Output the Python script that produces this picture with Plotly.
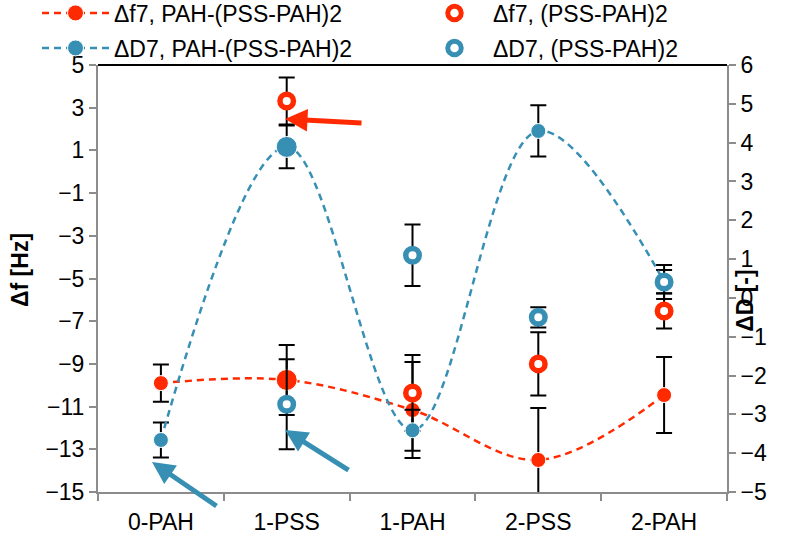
import plotly.graph_objects as go

categories = ["0-PAH", "1-PSS", "1-PAH", "2-PSS", "2-PAH"]

# Δf7, PAH-(PSS-PAH)2  (left axis)
df_multi = [-9.9, -9.75, -11.16, -13.5, -10.46]
df_multi_err = [0.87, 1.64, 2.25, 2.44, 1.78]

# ΔD7, PAH-(PSS-PAH)2  (right axis)
dD_multi = [-3.66, 3.89, -3.41, 4.30, 0.42]
dD_multi_err = [0.45, 0.55, 0.53, 0.66, 0.30]

# Δf7, (PSS-PAH)2  (left axis)
single_cats = ["1-PSS", "1-PAH", "2-PSS", "2-PAH"]
df_single = [3.31, -10.36, -9.0, -6.52]
df_single_err = [1.10, 1.78, 1.48, 0.82]

# ΔD7, (PSS-PAH)2  (right axis)
dD_single = [-2.74, 1.10, -0.50, 0.41]
dD_single_err = [1.16, 0.79, 0.26, 0.44]

RED = "#FF2A00"
BLUE = "#378FB4"
FONT = "Liberation Sans, Arial, sans-serif"
FS = 23
LFS = 23
filled_sizes = [15, 21, 15, 15, 15]

fig = go.Figure()

def ebar(arr):
    return dict(type="data", array=arr, visible=True, color="black", thickness=2, width=8)

fig.add_trace(go.Scatter(
    x=categories, y=df_multi, name="Δf7, PAH-(PSS-PAH)2", mode="lines+markers",
    line=dict(color=RED, width=2.5, dash="7px,5px", shape="spline"),
    marker=dict(color=RED, size=filled_sizes, opacity=1), error_y=ebar(df_multi_err),
    yaxis="y", legend="legend"))
fig.add_trace(go.Scatter(
    x=single_cats, y=df_single, name="Δf7, (PSS-PAH)2", mode="markers",
    marker=dict(color="white", size=13.5, opacity=1, line=dict(color=RED, width=5.5)),
    error_y=ebar(df_single_err), yaxis="y", legend="legend2"))
fig.add_trace(go.Scatter(
    x=categories, y=dD_multi, name="ΔD7, PAH-(PSS-PAH)2", mode="lines+markers",
    line=dict(color=BLUE, width=2.5, dash="7px,5px", shape="spline"),
    marker=dict(color=BLUE, size=filled_sizes, opacity=1), error_y=ebar(dD_multi_err),
    yaxis="y2", legend="legend3"))
fig.add_trace(go.Scatter(
    x=single_cats, y=dD_single, name="ΔD7, (PSS-PAH)2", mode="markers",
    marker=dict(color="white", size=13.5, opacity=1, line=dict(color=BLUE, width=5.5)),
    error_y=ebar(dD_single_err), yaxis="y2", legend="legend4"))

axis_common = dict(showgrid=False, zeroline=False, showline=True, linecolor="#8C8C8C",
                   linewidth=2, ticks="outside", tickcolor="#8C8C8C", ticklen=7, tickwidth=1.5,
                   tickfont=dict(family=FONT, size=FS, color="black"))

leg_common = dict(orientation="h", bgcolor="rgba(0,0,0,0)", font=dict(family=FONT, size=LFS, color="black"),
                  xref="container", yref="container", xanchor="left", yanchor="middle", itemwidth=67)

fig.update_layout(
    width=796, height=542,
    margin=dict(l=98, r=69, t=65, b=50, autoexpand=False),
    paper_bgcolor="white", plot_bgcolor="white",
    xaxis=dict(type="category", categoryorder="array", categoryarray=categories,
               range=[-0.5, 4.5], tickson="boundaries", ticklabelstandoff=8, **axis_common),
    yaxis=dict(range=[-15, 5], tickmode="linear", tick0=-15, dtick=2, **axis_common),
    yaxis2=dict(range=[-5, 6], tickmode="linear", tick0=-5, dtick=1, overlaying="y", side="right",
                **axis_common),
    legend=dict(x=37 / 796, y=1 - 13 / 542, **leg_common),
    legend2=dict(x=416 / 796, y=1 - 13 / 542, **leg_common),
    legend3=dict(x=37 / 796, y=1 - 48 / 542, **leg_common),
    legend4=dict(x=416 / 796, y=1 - 48 / 542, **leg_common),
    showlegend=True,
)

# top border
fig.add_shape(type="line", xref="paper", yref="paper", x0=0, x1=1, y0=1, y1=1,
              line=dict(color="black", width=2))

# axis titles
fig.add_annotation(text="<b>Δf [Hz]</b>", xref="paper", yref="paper", x=-0.124, y=0.52,
                   xanchor="center", yanchor="middle",
                   textangle=-90, showarrow=False, font=dict(family=FONT, size=FS, color="black"))
fig.add_annotation(text="<b>ΔD [-]</b>", xref="paper", yref="paper", x=1.0286, y=0.45,
                   xanchor="center", yanchor="middle",
                   textangle=-90, showarrow=False, font=dict(family=FONT, size=FS, color="black"))

# arrows
arrow_common = dict(xref="paper", yref="paper", text="", showarrow=True, arrowhead=2,
                    arrowsize=0.9, arrowwidth=5, standoff=0)
fig.add_annotation(x=(285 - 98) / 629, y=(492 - 119) / 427, ax=78, ay=4, arrowcolor=RED, **arrow_common)
fig.add_annotation(x=(152 - 98) / 629, y=(492 - 462) / 427, ax=66, ay=45, arrowcolor=BLUE, **arrow_common)
fig.add_annotation(x=(285 - 98) / 629, y=(492 - 430) / 427, ax=65, ay=41, arrowcolor=BLUE, **arrow_common)

fig.write_html("out.html")
